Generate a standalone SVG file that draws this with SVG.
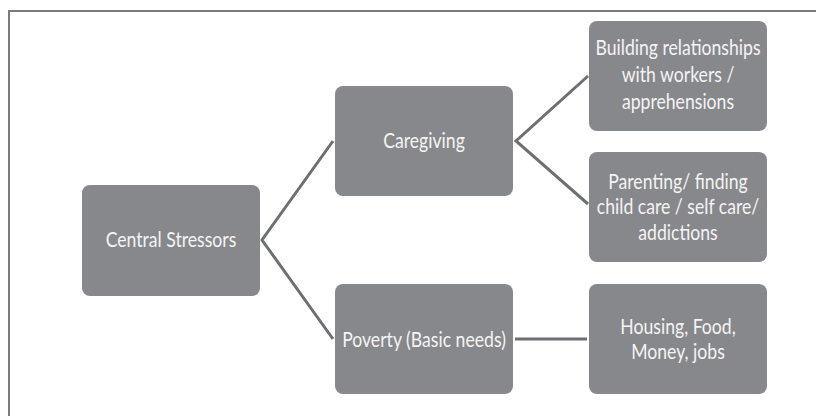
<svg xmlns="http://www.w3.org/2000/svg" width="816" height="416" viewBox="0 0 816 416">
<style>
.box{fill:#87888c;}
.t{font-family:Lato,"Open Sans","Liberation Sans",sans-serif;font-size:21px;fill:#f4f4f4;text-anchor:middle;}
.c{stroke:#6e6f72;stroke-width:3;fill:none;}
</style>
<rect width="816" height="416" fill="#ffffff"/>
<path d="M9,416 V11 H816" fill="none" stroke="#7a7a7a" stroke-width="2"/>
<g id="connectors">
<polyline class="c" points="333,141 262,240 333,339"/>
<polyline class="c" points="588,76 516,141 588,204"/>
<line class="c" x1="515" y1="339" x2="587" y2="339"/>
</g>
<g id="central"><rect class="box" x="82" y="185" width="178" height="111" rx="8"/><text class="t" transform="translate(171,247) scale(0.84,1)">Central Stressors</text></g>
<g id="caregiving"><rect class="box" x="335" y="86" width="178" height="110" rx="8"/><text class="t" transform="translate(424,148) scale(0.84,1)">Caregiving</text></g>
<g id="building"><rect class="box" x="589" y="21" width="178" height="110" rx="8"/><text class="t" transform="translate(678,55) scale(0.84,1)">Building relationships</text><text class="t" transform="translate(678,82) scale(0.84,1)">with workers /</text><text class="t" transform="translate(678,109) scale(0.84,1)">apprehensions</text></g>
<g id="parenting"><rect class="box" x="589" y="152" width="178" height="110" rx="8"/><text class="t" transform="translate(678,189) scale(0.84,1)">Parenting/ finding</text><text class="t" transform="translate(678,214) scale(0.84,1)">child care / self care/</text><text class="t" transform="translate(678,240) scale(0.84,1)">addictions</text></g>
<g id="poverty"><rect class="box" x="335" y="284" width="178" height="110" rx="8"/><text class="t" transform="translate(424,347) scale(0.84,1)">Poverty (Basic needs)</text></g>
<g id="housing"><rect class="box" x="589" y="284" width="178" height="110" rx="8"/><text class="t" transform="translate(678,334) scale(0.84,1)">Housing, Food,</text><text class="t" transform="translate(678,359) scale(0.84,1)">Money, jobs</text></g>
</svg>
